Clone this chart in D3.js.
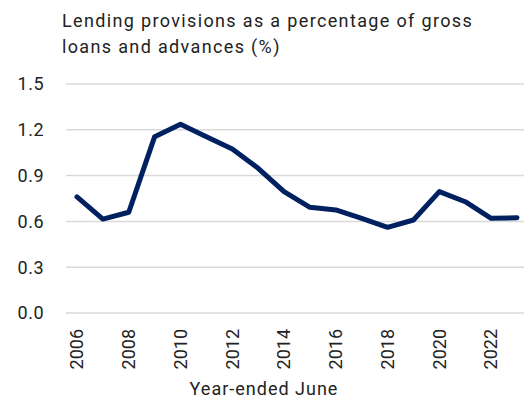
<!DOCTYPE html>
<html>
<head>
<meta charset="utf-8">
<script src="https://cdn.jsdelivr.net/npm/d3@7"></script>
<style>
  body { margin: 0; background: #fff; }
  text { font-family: Roboto, "DejaVu Sans", sans-serif; fill: #222; }
</style>
</head>
<body>
<div id="chart"></div>
<script>
// data
var years = [2006, 2007, 2008, 2009, 2010, 2011, 2012, 2013, 2014, 2015,
             2016, 2017, 2018, 2019, 2020, 2021, 2022, 2023];
var provisions = [0.76, 0.615, 0.66, 1.155, 1.236, 1.155, 1.074, 0.948, 0.795, 0.692,
                  0.675, 0.62, 0.561, 0.609, 0.795, 0.729, 0.62, 0.624];
var yTicks = [0, 0.3, 0.6, 0.9, 1.2, 1.5];
var xTicks = [2006, 2008, 2010, 2012, 2014, 2016, 2018, 2020, 2022];
var titleLines = ["Lending provisions as a percentage of gross", "loans and advances (%)"];

var width = 524, height = 405;
var svg = d3.select("#chart").append("svg")
    .attr("width", width)
    .attr("height", height);

var x = d3.scaleLinear().domain([2006, 2023]).range([77, 517]);
var y = d3.scaleLinear().domain([0, 1.5]).range([313, 84]);

// title
svg.append("g").selectAll("text")
    .data(titleLines)
  .enter().append("text")
    .attr("x", 62)
    .attr("y", function(d, i) { return 27 + i * 26; })
    .style("font-size", "18px")
    .style("letter-spacing", "1.35px")
    .text(function(d) { return d; });

// gridlines
svg.append("g").selectAll("line")
    .data(yTicks)
  .enter().append("line")
    .attr("x1", 66)
    .attr("x2", 524)
    .attr("y1", function(d) { return y(d); })
    .attr("y2", function(d) { return y(d); })
    .style("stroke", "#d9d9d9")
    .style("stroke-width", 1.5);

// y axis labels
svg.append("g").selectAll("text")
    .data(yTicks)
  .enter().append("text")
    .attr("x", 44)
    .attr("y", function(d) { return y(d); })
    .attr("dy", "0.35em")
    .style("text-anchor", "end")
    .style("font-size", "18px")
    .style("letter-spacing", "0.5px")
    .text(function(d) { return d3.format(".1f")(d); });

// x axis labels (rotated)
svg.append("g").selectAll("text")
    .data(xTicks)
  .enter().append("text")
    .attr("transform", function(d) { return "translate(" + x(d) + ",329) rotate(-90)"; })
    .attr("dy", "0.35em")
    .style("text-anchor", "end")
    .style("font-size", "18px")
    .text(function(d) { return d; });

svg.append("text")
    .attr("x", 264)
    .attr("y", 395)
    .style("text-anchor", "middle")
    .style("font-size", "18px")
    .style("letter-spacing", "1px")
    .text("Year-ended June");

// the line
var line = d3.line()
    .x(function(d, i) { return x(years[i]); })
    .y(function(d) { return y(d); });

svg.append("path")
    .datum(provisions)
    .attr("d", line)
    .style("fill", "none")
    .style("stroke", "#002060")
    .style("stroke-width", 5)
    .style("stroke-linejoin", "round")
    .style("stroke-linecap", "round");
</script>
</body>
</html>
